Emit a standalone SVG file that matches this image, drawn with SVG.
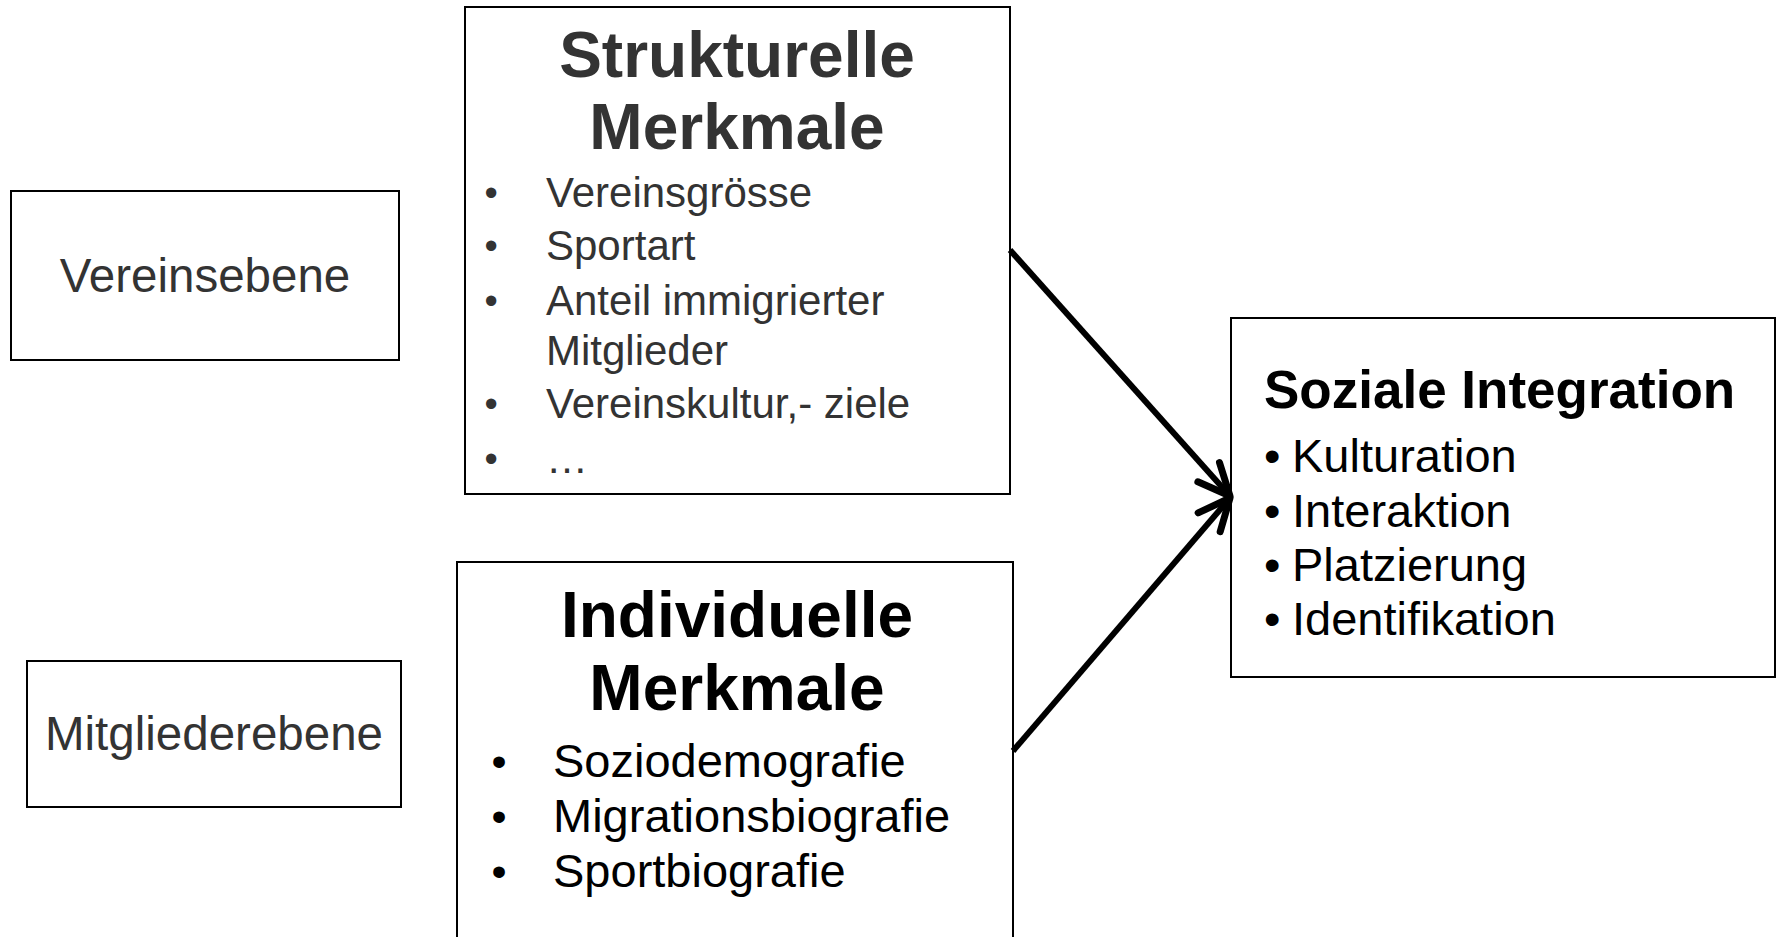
<svg xmlns="http://www.w3.org/2000/svg" width="1779" height="937" viewBox="0 0 1779 937">
<style>
  text { font-family: "Liberation Sans", Arial, sans-serif; }
  .box { fill: #ffffff; stroke: #000000; stroke-width: 2; }
  .gray { fill: #333333; }
  .blk { fill: #000000; }
  .title { font-weight: bold; font-size: 64px; text-anchor: middle; }
  .lvl { font-size: 47.5px; text-anchor: middle; }
  .sb { font-size: 42px; }
  .ib { font-size: 47px; }
  .bs { font-size: 38px; }
  .bi { font-size: 43px; }
  .conn { stroke: #000000; stroke-width: 6; fill: none; }
</style>
<defs>
  <marker id="chev" viewBox="-40 -22 46 44" refX="0" refY="0" markerWidth="46" markerHeight="44" markerUnits="userSpaceOnUse" orient="auto">
    <path d="M -32 -14.5 L 0 0 L -32 14.5" fill="none" stroke="#000000" stroke-width="7" stroke-linecap="round" stroke-linejoin="round"/>
  </marker>
</defs>
<rect width="1779" height="937" fill="#ffffff"/>

<g id="vereinsebene">
  <rect class="box" x="11" y="191" width="388" height="169"/>
  <text class="lvl gray" x="205" y="292">Vereinsebene</text>
</g>

<g id="mitgliederebene">
  <rect class="box" x="27" y="661" width="374" height="146"/>
  <text class="lvl gray" x="214" y="750">Mitgliederebene</text>
</g>

<g id="strukturelle">
  <rect class="box" x="465" y="7" width="545" height="487"/>
  <text class="title gray" x="737" y="77">Strukturelle</text>
  <text class="title gray" x="737" y="149">Merkmale</text>
  <g class="sb gray">
    <text class="bs" x="484.5" y="206">•</text><text x="546" y="207">Vereinsgrösse</text>
    <text class="bs" x="484.5" y="259">•</text><text x="546" y="260">Sportart</text>
    <text class="bs" x="484.5" y="314">•</text><text x="546" y="315">Anteil immigrierter</text>
    <text x="546" y="365">Mitglieder</text>
    <text class="bs" x="484.5" y="417">•</text><text x="546" y="418">Vereinskultur,- ziele</text>
    <text class="bs" x="484.5" y="472">•</text><text x="546" y="473">…</text>
  </g>
</g>

<g id="individuelle">
  <rect class="box" x="457" y="562" width="556" height="390"/>
  <text class="title blk" x="737" y="637">Individuelle</text>
  <text class="title blk" x="737" y="710">Merkmale</text>
  <g class="ib blk">
    <text class="bi" x="491.5" y="776">•</text><text x="553" y="777">Soziodemografie</text>
    <text class="bi" x="491.5" y="831">•</text><text x="553" y="832">Migrationsbiografie</text>
    <text class="bi" x="491.5" y="886">•</text><text x="553" y="887">Sportbiografie</text>
  </g>
</g>

<g id="soziale-integration">
  <rect class="box" x="1231" y="318" width="544" height="359"/>
  <text class="blk" x="1264" y="408" font-size="53" font-weight="bold">Soziale Integration</text>
  <g class="ib blk">
    <text x="1264" y="472">•</text><text x="1292" y="472">Kulturation</text>
    <text x="1264" y="527">•</text><text x="1292" y="527">Interaktion</text>
    <text x="1264" y="581">•</text><text x="1292" y="581">Platzierung</text>
    <text x="1264" y="635">•</text><text x="1292" y="635">Identifikation</text>
  </g>
</g>

<g id="connectors">
  <line class="conn" x1="1010" y1="250" x2="1230" y2="496" marker-end="url(#chev)"/>
  <line class="conn" x1="1013" y1="751" x2="1230" y2="498" marker-end="url(#chev)"/>
</g>
</svg>
